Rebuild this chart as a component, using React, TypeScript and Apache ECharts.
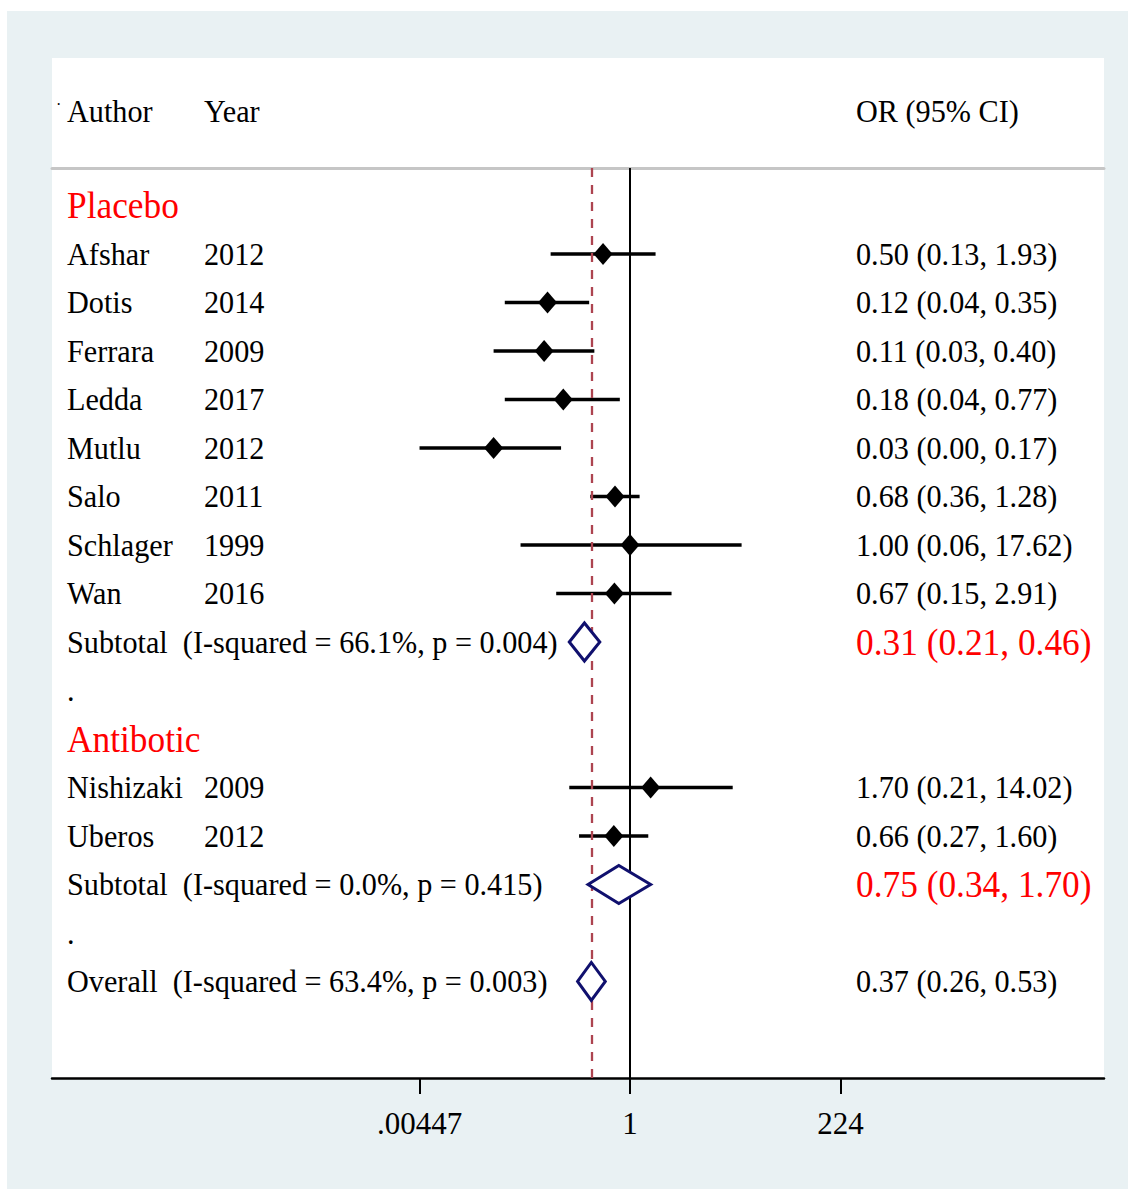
import React, { useEffect, useRef } from "react";
import * as echarts from "echarts";

// ---------- data ----------
const groupNames = ["Placebo", "Antibotic"];

const placeboAuthors = ["Afshar", "Dotis", "Ferrara", "Ledda", "Mutlu", "Salo", "Schlager", "Wan"];
const placeboYears = ["2012", "2014", "2009", "2017", "2012", "2011", "1999", "2016"];
const placeboOR = [0.5, 0.12, 0.11, 0.18, 0.03, 0.68, 1.0, 0.67];
const placeboLo = [0.13, 0.04, 0.03, 0.04, 0.00447, 0.36, 0.06, 0.15];
const placeboHi = [1.93, 0.35, 0.4, 0.77, 0.17, 1.28, 17.62, 2.91];

const antibioticAuthors = ["Nishizaki", "Uberos"];
const antibioticYears = ["2009", "2012"];
const antibioticOR = [1.7, 0.66];
const antibioticLo = [0.21, 0.27];
const antibioticHi = [14.02, 1.6];

const subtotalOR = [0.31, 0.75];
const subtotalLo = [0.21, 0.34];
const subtotalHi = [0.46, 1.7];
const subtotalI2 = ["66.1%", "0.0%"];
const subtotalP = ["0.004", "0.415"];

const overallOR = 0.37;
const overallLo = 0.26;
const overallHi = 0.53;
const overallI2 = "63.4%";
const overallP = "0.003";

const tickValues = [0.00447, 1, 224];
const tickLabels = [".00447", "1", "224"];

// ---------- layout constants ----------
const FONT = "'Liberation Serif', 'Times New Roman', serif";
const COL_AUTHOR = 67;
const COL_YEAR = 204;
const COL_EST = 856;
const BASE_SIZE = 32.5;
const BIG_SIZE = 38;
const SCALE_X = 0.93;
const RED = "#ff0000";
const NAVY = "#10106e";

const fmt = (v: number) => v.toFixed(2);
const estText = (o: number, l: number, h: number) => `${fmt(o)} (${fmt(l)}, ${fmt(h)})`;

type TextItem = { row: number; x: number; text: string; color: string; size: number };

function buildRows() {
  const texts: TextItem[] = [];
  const studies: { row: number; or: number; lo: number; hi: number }[] = [];
  const pooled: { row: number; or: number; lo: number; hi: number }[] = [];

  const headerRow = -1.948;
  texts.push({ row: headerRow - 0.13, x: 56, text: "·", color: "#000", size: 16 });
  texts.push({ row: headerRow, x: COL_AUTHOR, text: "Author", color: "#000", size: BASE_SIZE });
  texts.push({ row: headerRow, x: COL_YEAR, text: "Year", color: "#000", size: BASE_SIZE });
  texts.push({ row: headerRow, x: COL_EST, text: "OR (95% CI)", color: "#000", size: BASE_SIZE });

  const groups = [
    { authors: placeboAuthors, years: placeboYears, or: placeboOR, lo: placeboLo, hi: placeboHi },
    { authors: antibioticAuthors, years: antibioticYears, or: antibioticOR, lo: antibioticLo, hi: antibioticHi },
  ];
  let row = 0;
  groups.forEach((g, gi) => {
    texts.push({ row, x: COL_AUTHOR, text: groupNames[gi], color: RED, size: BIG_SIZE });
    row++;
    g.authors.forEach((a, i) => {
      texts.push({ row, x: COL_AUTHOR, text: a, color: "#000", size: BASE_SIZE });
      texts.push({ row, x: COL_YEAR, text: g.years[i], color: "#000", size: BASE_SIZE });
      texts.push({ row, x: COL_EST, text: estText(g.or[i], g.lo[i], g.hi[i]), color: "#000", size: BASE_SIZE });
      studies.push({ row, or: g.or[i], lo: g.lo[i], hi: g.hi[i] });
      row++;
    });
    texts.push({
      row,
      x: COL_AUTHOR,
      text: `Subtotal\u00a0 (I-squared = ${subtotalI2[gi]}, p = ${subtotalP[gi]})`,
      color: "#000",
      size: BASE_SIZE,
    });
    texts.push({ row, x: COL_EST, text: estText(subtotalOR[gi], subtotalLo[gi], subtotalHi[gi]), color: RED, size: BIG_SIZE });
    pooled.push({ row, or: subtotalOR[gi], lo: subtotalLo[gi], hi: subtotalHi[gi] });
    row++;
    texts.push({ row, x: COL_AUTHOR, text: ".", color: "#000", size: BASE_SIZE });
    row++;
  });
  texts.push({
    row,
    x: COL_AUTHOR,
    text: `Overall\u00a0 (I-squared = ${overallI2}, p = ${overallP})`,
    color: "#000",
    size: BASE_SIZE,
  });
  texts.push({ row, x: COL_EST, text: estText(overallOR, overallLo, overallHi), color: "#000", size: BASE_SIZE });
  pooled.push({ row, or: overallOR, lo: overallLo, hi: overallHi });
  return { texts, studies, pooled };
}

export default function App() {
  const ref = useRef<HTMLDivElement>(null);

  useEffect(() => {
    if (!ref.current) return;
    const chart = echarts.init(ref.current, null, { renderer: "svg" });
    const { texts, studies, pooled } = buildRows();
    const L = Math.log10;
    const tickLogs = tickValues.map((v) => L(v));

    const option: any = {
      animation: false,
      backgroundColor: "#ffffff",
      graphic: [
        { type: "rect", z: -10, shape: { x: 7, y: 11, width: 1121, height: 1178 }, style: { fill: "#e9f1f3" } },
        { type: "rect", z: -9, shape: { x: 52, y: 58, width: 1052, height: 1020 }, style: { fill: "#ffffff" } },
      ],
      grid: { left: 52, right: 24, top: 168, bottom: 111, containLabel: false },
      xAxis: [
        {
          type: "value",
          min: -6.453,
          max: 5.292,
          splitLine: { show: false },
          axisLine: { show: true, onZero: false, lineStyle: { color: "#000", width: 2.5 } },
          axisTick: { show: true, customValues: tickLogs, length: 16, inside: false, lineStyle: { color: "#000", width: 2 } },
          axisLabel: {
            show: true,
            customValues: tickLogs,
            margin: 30,
            fontFamily: FONT,
            fontSize: 31,
            color: "#000",
            formatter: (v: number) => {
              let best = 0;
              tickLogs.forEach((t, i) => {
                if (Math.abs(t - v) < Math.abs(tickLogs[best] - v)) best = i;
              });
              return tickLabels[best];
            },
          },
        },
        {
          type: "value",
          position: "top",
          min: -6.453,
          max: 5.292,
          splitLine: { show: false },
          axisLine: { show: true, onZero: false, lineStyle: { color: "#c6c6c6", width: 3 } },
          axisTick: { show: false },
          axisLabel: { show: false },
        },
      ],
      yAxis: { type: "value", inverse: true, min: -0.773, max: 17.99, show: false },
      series: [
        {
          type: "scatter",
          name: "ref",
          data: [],
          markLine: {
            silent: true,
            symbol: ["none", "none"],
            label: { show: false },
            data: [
              { xAxis: L(overallOR), lineStyle: { color: "#ad4450", width: 2.3, type: [9, 8] } },
              { xAxis: 0, lineStyle: { color: "#000", width: 2, type: "solid" } },
            ],
          },
        },
        {
          type: "custom",
          name: "ci",
          clip: false,
          data: studies.map((s) => [L(s.lo), L(s.hi), s.row]),
          encode: { x: [0, 1], y: 2 },
          renderItem: (params: any, api: any) => {
            const a = api.coord([api.value(0), api.value(2)]);
            const b = api.coord([api.value(1), api.value(2)]);
            return {
              type: "line",
              shape: { x1: a[0], y1: a[1], x2: b[0], y2: b[1] },
              style: { stroke: "#000", lineWidth: 3.5 },
            };
          },
          z: 3,
        },
        {
          type: "scatter",
          name: "or",
          symbol: "diamond",
          symbolSize: [19, 22],
          itemStyle: { color: "#000", opacity: 1 },
          data: studies.map((s) => [L(s.or), s.row]),
          z: 4,
        },
        {
          type: "custom",
          name: "pooled",
          clip: false,
          data: pooled.map((p) => [L(p.lo), L(p.or), L(p.hi), p.row]),
          encode: { x: [0, 1, 2], y: 3 },
          renderItem: (params: any, api: any) => {
            const lo = api.coord([api.value(0), api.value(3)]);
            const mid = api.coord([api.value(1), api.value(3)]);
            const hi = api.coord([api.value(2), api.value(3)]);
            const h = 19;
            return {
              type: "polygon",
              shape: { points: [[lo[0], lo[1]], [mid[0], mid[1] - h], [hi[0], hi[1]], [mid[0], mid[1] + h]] },
              style: { fill: "#ffffff", stroke: NAVY, lineWidth: 3, lineJoin: "miter" },
            };
          },
          z: 5,
        },
        {
          type: "custom",
          name: "texts",
          clip: false,
          silent: true,
          data: texts.map((t) => [0, t.row]),
          encode: { x: 0, y: 1 },
          renderItem: (params: any, api: any) => {
            const t = texts[params.dataIndex];
            const p = api.coord([0, api.value(1)]);
            const scale = t.text === "·" ? 1 : SCALE_X;
            return {
              type: "text",
              x: t.x,
              y: p[1],
              scaleX: scale,
              style: {
                text: t.text,
                fill: t.color,
                fontSize: t.size,
                fontFamily: FONT,
                textAlign: "left",
                textVerticalAlign: "middle",
                align: "left",
                verticalAlign: "middle",
              },
            };
          },
          z: 6,
        },
      ],
    };
    chart.setOption(option);
    return () => chart.dispose();
  }, []);

  return (
    <div
      ref={ref}
      style={{ position: "absolute", left: 0, top: 0, width: 1128, height: 1189 }}
    />
  );
}
